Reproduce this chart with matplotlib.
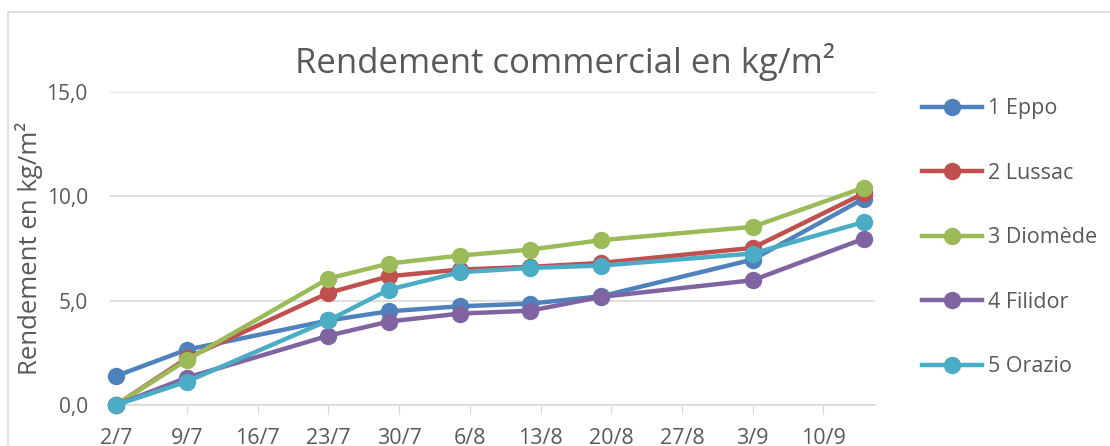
import matplotlib
matplotlib.use("Agg")
import matplotlib.pyplot as plt
from matplotlib.patches import Rectangle

plt.rcParams['font.family'] = ['Open Sans', 'DejaVu Sans']

# --- Data (days counted from 2/7) ---
days = [0, 7, 21, 27, 34, 41, 48, 63, 74]
tick_days = [0, 7, 14, 21, 28, 35, 42, 49, 56, 63, 70]
tick_labels = ['2/7', '9/7', '16/7', '23/7', '30/7', '6/8', '13/8', '20/8', '27/8', '3/9', '10/9']

eppo = [1.39, 2.65, 4.05, 4.49, 4.73, 4.86, 5.21, 6.97, 9.89]
lussac = [0.0, 2.24, 5.37, 6.17, 6.49, 6.62, 6.81, 7.53, 10.14]
diomede = [0.0, 2.16, 6.06, 6.78, 7.16, 7.45, 7.90, 8.54, 10.42]
filidor = [0.0, 1.31, 3.32, 4.00, 4.38, 4.52, 5.18, 5.98, 7.97]
orazio = [0.0, 1.12, 4.05, 5.53, 6.36, 6.57, 6.68, 7.26, 8.77]

series = [
    ('1 Eppo', eppo, '#4F81BD'),
    ('2 Lussac', lussac, '#C0504D'),
    ('3 Diomède', diomede, '#9BBB59'),
    ('4 Filidor', filidor, '#8064A2'),
    ('5 Orazio', orazio, '#4BACC6'),
]
grey = '#595959'

W, H = 1110, 446
fig = plt.figure(figsize=(W / 100, H / 100), dpi=100)
ax = fig.add_axes([110 / W, 1 - 405 / H, (875 - 110) / W, (405 - 92) / H])

# chart frame
fig.add_artist(Rectangle((8 / W, -0.05), 1.1, 1 - 12 / H + 0.05, transform=fig.transFigure,
                         fill=False, edgecolor='#D9D9D9', linewidth=1.2))

for name, vals, col in series:
    ax.plot(days, vals, color=col, linewidth=3.2, marker='o', markersize=11.5,
            label=name, clip_on=False, zorder=3)

ax.set_xlim(-0.6, 75.1)
ax.set_ylim(0, 15)
ax.set_yticks([0, 5, 10, 15])
ax.set_yticklabels(['0,0', '5,0', '10,0', '15,0'])
ax.set_xticks(tick_days)
ax.set_xticklabels(tick_labels)

ax.grid(axis='y', color='#D9D9D9', linewidth=1.2)
ax.set_axisbelow(True)
for s in ['top', 'right', 'left']:
    ax.spines[s].set_visible(False)
ax.spines['bottom'].set_color('#D9D9D9')
ax.spines['bottom'].set_linewidth(1.2)
ax.tick_params(axis='y', length=0, pad=16, labelsize=15, labelcolor=grey)
ax.tick_params(axis='x', length=6.5, color='#D9D9D9', pad=10, labelsize=15.5, labelcolor=grey)

ax.set_ylabel('Rendement en kg/m²', fontsize=18.5, color=grey)
ax.yaxis.set_label_coords(-0.087, 0.5)
fig.text(565 / W, 1 - 62 / H, 'Rendement commercial en kg/m²', ha='center', va='center',
         fontsize=25, color=grey)

ax.legend(loc='upper left', bbox_to_anchor=(903 / W, 1 - 79 / H), bbox_transform=fig.transFigure,
          frameon=False, fontsize=15.5, labelspacing=2.02, handlelength=2.75,
          handletextpad=0.28, labelcolor=grey)

fig.savefig('out.png', dpi=100)
